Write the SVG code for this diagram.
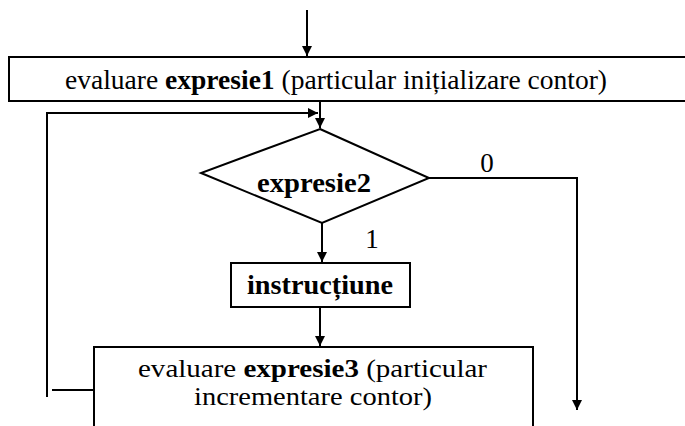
<svg xmlns="http://www.w3.org/2000/svg" width="685" height="426" viewBox="0 0 685 426">
<style>
.box{fill:#fff;stroke:#000;stroke-width:2}
.ln{fill:none;stroke:#000;stroke-width:2}
text{font-family:'Liberation Serif','Times New Roman',Times,serif;font-size:27px;fill:#000}
.b{font-weight:bold}
.s{font-size:24.5px}
</style>
<defs>
<marker id="ah" viewBox="0 0 10 10" refX="10" refY="5" markerWidth="5" markerHeight="5" orient="auto" markerUnits="strokeWidth">
<path d="M0,0 L10,5 L0,10 z" fill="#000"/>
</marker>
</defs>
<rect width="685" height="426" fill="#fff"/>
<g id="connectors">
<line class="ln" x1="307" y1="10" x2="307" y2="56" marker-end="url(#ah)"/>
<line class="ln" x1="320" y1="101" x2="320" y2="128" marker-end="url(#ah)"/>
<polyline class="ln" points="47,397 47,113 318,113" marker-end="url(#ah)"/>
<line class="ln" x1="322" y1="223" x2="322" y2="262" marker-end="url(#ah)"/>
<line class="ln" x1="320" y1="307" x2="320" y2="346" marker-end="url(#ah)"/>
<polyline class="ln" points="429,178 577,178 577,410" marker-end="url(#ah)"/>
<line class="ln" x1="52" y1="390" x2="94" y2="390"/>
<text x="487" y="172" text-anchor="middle" font-family="Liberation Serif, serif">0</text>
<text x="372" y="248" text-anchor="middle" font-family="Liberation Serif, serif">1</text>
</g>
<g id="init">
<rect class="box" x="9" y="57" width="690" height="44"/>
<text x="65" y="89" font-family="Liberation Serif, serif" textLength="542" lengthAdjust="spacingAndGlyphs">evaluare <tspan class="b">expresie1</tspan> (particular inițializare contor)</text>
</g>
<g id="cond">
<polygon class="box" points="320,129 429,178 322,223 201,173"/>
<text class="b" x="257" y="192" font-family="Liberation Serif, serif" textLength="114" lengthAdjust="spacingAndGlyphs">expresie2</text>
</g>
<g id="instr">
<rect class="box" x="231" y="263" width="179" height="44"/>
<text class="b" x="247" y="294" font-family="Liberation Serif, serif" textLength="146" lengthAdjust="spacingAndGlyphs">instrucțiune</text>
</g>
<g id="incr">
<rect class="box" x="94" y="347" width="439" height="100"/>
<text class="s" x="138" y="377" font-family="Liberation Serif, serif" textLength="349" lengthAdjust="spacingAndGlyphs">evaluare <tspan class="b">expresie3</tspan> (particular</text>
<text class="s" x="194" y="405" font-family="Liberation Serif, serif" textLength="238" lengthAdjust="spacingAndGlyphs">incrementare contor)</text>
</g>
</svg>
